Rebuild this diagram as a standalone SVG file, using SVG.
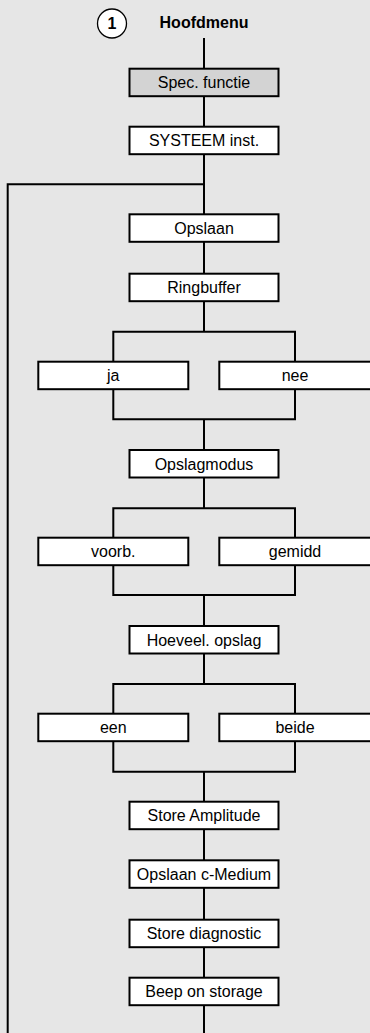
<svg xmlns="http://www.w3.org/2000/svg" width="370" height="1033" viewBox="0 0 370 1033">
<style>
.bg{fill:#e6e6e6}
.box{fill:#ffffff;stroke:#000;stroke-width:2}
.grey{fill:#d3d3d3}
.ln{fill:none;stroke:#000;stroke-width:2}
.t{font-family:"Liberation Sans",Arial,sans-serif;font-size:16px;text-anchor:middle;fill:#000}
.b{font-weight:bold}
</style>
<rect class="bg" x="0" y="0" width="370" height="1033"/>
<g id="connectors">
<path class="ln" d="M204,38 V331.7"/>
<path class="ln" d="M204,184.3 H7.7 V1033"/>
<path class="ln" d="M113.3,331.7 H295 V419.3 H113.3 Z"/>
<path class="ln" d="M204,419.3 V508.3"/>
<path class="ln" d="M113.3,508.3 H295 V595 H113.3 Z"/>
<path class="ln" d="M204,595 V684"/>
<path class="ln" d="M113.3,684 H295 V771.7 H113.3 Z"/>
<path class="ln" d="M204,771.7 V1033"/>
</g>
<g id="start">
<circle cx="112" cy="23.5" r="14.5" fill="#fff" stroke="#000" stroke-width="1.3"/>
<text class="t b" x="112" y="29">1</text>
<text class="t b" x="204" y="28">Hoofdmenu</text>
</g>
<g id="n-spec"><rect class="box grey" x="129.5" y="68.7" width="149" height="27.5"/><text class="t" x="204" y="88.2">Spec. functie</text></g>
<g id="n-systeem"><rect class="box" x="129.5" y="126.7" width="149" height="27.5"/><text class="t" x="204" y="146.2">SYSTEEM inst.</text></g>
<g id="n-opslaan"><rect class="box" x="129.5" y="214.3" width="149" height="27.5"/><text class="t" x="204" y="233.8">Opslaan</text></g>
<g id="n-ringbuffer"><rect class="box" x="129.5" y="273.7" width="149" height="27.5"/><text class="t" x="204" y="293.2">Ringbuffer</text></g>
<g id="n-ja"><rect class="box" x="38.3" y="361.7" width="150" height="27.5"/><text class="t" x="113.3" y="381.2">ja</text></g>
<g id="n-nee"><rect class="box" x="219.3" y="361.7" width="152" height="27.5"/><text class="t" x="295" y="381.2">nee</text></g>
<g id="n-opslagmodus"><rect class="box" x="129.5" y="450" width="149" height="27.5"/><text class="t" x="204" y="469.5">Opslagmodus</text></g>
<g id="n-voorb"><rect class="box" x="38.3" y="537.7" width="150" height="27.5"/><text class="t" x="113.3" y="557.2">voorb.</text></g>
<g id="n-gemidd"><rect class="box" x="219.3" y="537.7" width="152" height="27.5"/><text class="t" x="295" y="557.2">gemidd</text></g>
<g id="n-hoeveel"><rect class="box" x="129.5" y="626" width="149" height="27.5"/><text class="t" x="204" y="645.5">Hoeveel. opslag</text></g>
<g id="n-een"><rect class="box" x="38.3" y="713.7" width="150" height="27.5"/><text class="t" x="113.3" y="733.2">een</text></g>
<g id="n-beide"><rect class="box" x="219.3" y="713.7" width="152" height="27.5"/><text class="t" x="295" y="733.2">beide</text></g>
<g id="n-storeamp"><rect class="box" x="129.5" y="801.7" width="149" height="27.5"/><text class="t" x="204" y="821.2">Store Amplitude</text></g>
<g id="n-opslaancmed"><rect class="box" x="129.5" y="860.3" width="149" height="27.5"/><text class="t" x="204" y="879.8">Opslaan c-Medium</text></g>
<g id="n-storediag"><rect class="box" x="129.5" y="919.7" width="149" height="27.5"/><text class="t" x="204" y="939.2">Store diagnostic</text></g>
<g id="n-beep"><rect class="box" x="129.5" y="977.7" width="149" height="27.5"/><text class="t" x="204" y="997.2">Beep on storage</text></g>
</svg>
